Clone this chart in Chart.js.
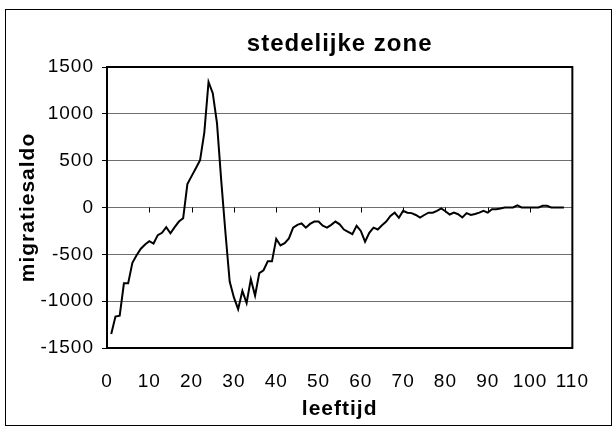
<!DOCTYPE html>
<html>
<head>
<meta charset="utf-8">
<script src="https://cdn.jsdelivr.net/npm/chart.js@4.4.1/dist/chart.umd.min.js"></script>
<style>
  html, body { margin: 0; padding: 0; background: #fff; }
  #kader {
    position: absolute; left: 5px; top: 9px;
    width: 607px; height: 417px;
    border: 1px solid #000; box-sizing: border-box;
  }
  #kader canvas { display: block; }
</style>
</head>
<body>
<div id="kader"><canvas id="grafiek" width="605" height="415"></canvas></div>
<script>
const titel = "stedelijke zone";
const titelX = "leeftijd";
const titelY = "migratiesaldo";

const leeftijden = [
  1, 2, 3, 4, 5, 6, 7, 8, 9, 10, 11, 12, 13, 14, 15, 16, 17, 18, 19, 20,
  21, 22, 23, 24, 25, 26, 27, 28, 29, 30, 31, 32, 33, 34, 35, 36, 37, 38, 39, 40,
  41, 42, 43, 44, 45, 46, 47, 48, 49, 50, 51, 52, 53, 54, 55, 56, 57, 58, 59, 60,
  61, 62, 63, 64, 65, 66, 67, 68, 69, 70, 71, 72, 73, 74, 75, 76, 77, 78, 79, 80,
  81, 82, 83, 84, 85, 86, 87, 88, 89, 90, 91, 92, 93, 94, 95, 96, 97, 98, 99, 100,
  101, 102, 103, 104, 105, 106, 107, 108
];

const saldo = [
  -1350, -1165, -1155, -810, -810, -590, -510, -440, -395, -360,
  -385, -295, -270, -210, -275, -210, -150, -115, 250, 335,
  420, 505, 800, 1340, 1220, 900, 290, -270, -790, -960,
  -1085, -890, -1020, -765, -940, -700, -670, -575, -575, -335,
  -405, -380, -330, -215, -185, -170, -215, -175, -150, -150,
  -195, -215, -185, -150, -180, -235, -260, -285, -195, -250,
  -365, -270, -215, -235, -190, -150, -90, -55, -110, -35,
  -55, -60, -80, -107, -80, -55, -55, -36, -10, -40,
  -75, -55, -72, -107, -60, -80, -70, -55, -36, -55,
  -18, -18, -10, 0, 0, 0, 22, 0, 0, 0,
  0, 0, 18, 18, 0, 0, 0, 0
];

const xMin = 0, xMax = 110, xStap = 10;
const yMin = -1500, yMax = 1500, yStap = 500;

const punten = leeftijden.map((l, i) => ({ x: l, y: saldo[i] }));

const lettertype = "'Liberation Sans', Arial, sans-serif";

// iets bredere letters, zoals in het origineel
const letterAfstand = {
  id: "letterAfstand",
  beforeUpdate(chart) { chart.ctx.letterSpacing = "1px"; },
  beforeDraw(chart) { chart.ctx.letterSpacing = "1px"; },
};

// kader rond plotgebied en streepjes op de nullijn
const plotKader = {
  id: "plotKader",
  afterDatasetsDraw(chart) {
    const { ctx, chartArea, scales } = chart;
    ctx.save();
    ctx.strokeStyle = "#000";
    ctx.lineWidth = 1;
    const y0 = scales.y.getPixelForValue(0);
    scales.x.ticks.forEach((t) => {
      const px = Math.round(scales.x.getPixelForValue(t.value)) + 0.5;
      ctx.beginPath();
      ctx.moveTo(px, y0);
      ctx.lineTo(px, y0 + 5);
      ctx.stroke();
    });
    ctx.lineWidth = 2;
    ctx.strokeRect(chartArea.left, chartArea.top,
      chartArea.right - chartArea.left, chartArea.bottom - chartArea.top);
    ctx.restore();
  },
};

new Chart(document.getElementById("grafiek"), {
  type: "line",
  data: {
    datasets: [{
      data: punten,
      borderColor: "#000",
      borderWidth: 2,
      pointRadius: 0,
      tension: 0,
      fill: false,
    }],
  },
  options: {
    responsive: false,
    animation: false,
    layout: { padding: { left: 0, right: 29, top: 0, bottom: 0 } },
    plugins: { legend: { display: false }, tooltip: { enabled: false } },
    scales: {
      x: {
        type: "linear",
        position: "bottom",
        min: xMin, max: xMax,
        afterFit: (s) => { s.height = 77; },
        grid: { display: false, drawTicks: false },
        border: { display: true, color: "#000", width: 2 },
        ticks: {
          stepSize: xStap,
          color: "#000",
          padding: 22,
          maxRotation: 0,
          font: { family: lettertype, size: 19 },
        },
        title: {
          display: true, text: titelX, color: "#000",
          font: { family: lettertype, size: 21, weight: "bold" },
          padding: { top: 0, bottom: 3 },
        },
      },
      boven: {
        type: "linear",
        position: "top",
        min: xMin, max: xMax,
        afterFit: (s) => { s.height = 57; },
        grid: { display: false, drawTicks: false },
        border: { display: false },
        ticks: { display: false },
        title: {
          display: true, text: titel, color: "#000",
          font: { family: lettertype, size: 24, weight: "bold" },
          padding: { top: 20, bottom: 0 },
        },
      },
      y: {
        min: yMin, max: yMax,
        afterFit: (s) => { s.width = 101; },
        grid: { color: "#6e6e6e", lineWidth: 1, tickLength: 5, tickColor: "#000" },
        border: { display: true, color: "#000", width: 2 },
        ticks: {
          stepSize: yStap,
          color: "#000",
          padding: 8,
          font: { family: lettertype, size: 19 },
          callback: (v) => String(v),
        },
        title: {
          display: true, text: titelY, color: "#000",
          font: { family: lettertype, size: 21, weight: "bold" },
          padding: { top: 10, bottom: 0 },
        },
      },
    },
  },
  plugins: [letterAfstand, plotKader],
});
</script>
</body>
</html>
